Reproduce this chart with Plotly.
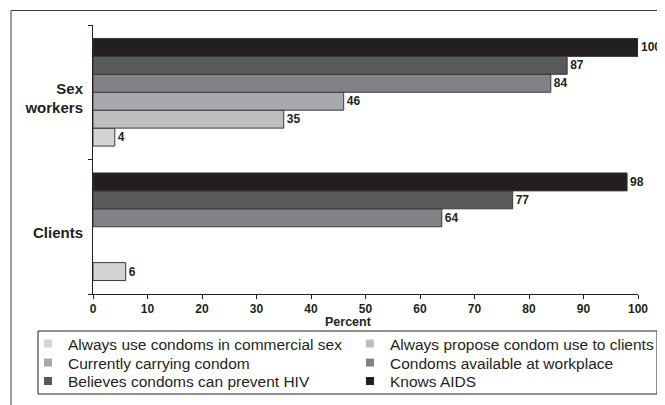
import plotly.graph_objects as go

groups = ["Clients", "Sex workers"]
group_labels = ["Clients", "Sex<br>workers"]

series_names = [
    "Always use condoms in commercial sex",
    "Always propose condom use to clients",
    "Currently carrying condom",
    "Condoms available at workplace",
    "Believes condoms can prevent HIV",
    "Knows AIDS",
]
# values per series: [Clients, Sex workers]
always_use = [6, 4]
always_propose = [None, 35]
currently_carrying = [None, 46]
condoms_available = [64, 84]
believes_prevent = [77, 87]
knows_aids = [98, 100]
series_values = [always_use, always_propose, currently_carrying,
                 condoms_available, believes_prevent, knows_aids]

colors = ["#d1d3d4", "#bcbec0", "#a7a9ac", "#808285", "#58595b", "#231f20"]
x_ticks = [0, 10, 20, 30, 40, 50, 60, 70, 80, 90, 100]

# page body has an 8px margin: design in window pixels, shift by OFF
OFF = 8
W, H = 665 - OFF, 405 - OFF
PL, PR, PT, PB = 93, 638, 25, 294          # plot area in window pixels
ML, MR, MT, MB = PL - OFF, W - (PR - OFF), PT - OFF, H - (PB - OFF)
PW = W - ML - MR
PH = H - MT - MB

def px_x(px):
    return (px - OFF - ML) / PW

def px_y(py):
    return (H - MB - (py - OFF)) / PH

BOLD = "Liberation Sans, Arial, sans-serif"
TXT = "#231f20"

# legend entry placement (window px): two columns, three rows
col_x = [28, 350]
row_top = [327, 346, 364.5]
legend_ids = ["legend", "legend2", "legend3", "legend4", "legend5", "legend6"]

fig = go.Figure()
for name, vals, col in zip(series_names, series_values, colors):
    fig.add_trace(go.Bar(
        y=groups, x=vals, orientation="h", name=name,
        marker=dict(color=col, line=dict(color="#3a3a3a", width=1)),
        text=[("" if v is None else str(v)) for v in vals],
        textposition="outside", cliponaxis=False,
        textfont=dict(family=BOLD, size=12, color=TXT, weight="bold"),
        showlegend=False, hoverinfo="skip",
    ))
# legend entries with small square swatches
for name, col, lg in zip(series_names, colors, legend_ids):
    fig.add_trace(go.Scatter(
        x=[None], y=[None], mode="markers", name=name,
        marker=dict(symbol="square", size=8, color=col),
        showlegend=True, legend=lg,
    ))

legend_font = dict(family="Liberation Sans, Arial, sans-serif", size=15.5, color=TXT)
legend_layouts = {}
for i, lg in enumerate(legend_ids):
    legend_layouts[lg] = dict(
        orientation="v", x=px_x(col_x[i % 2]), xanchor="left",
        y=px_y(row_top[i // 2]), yanchor="top",
        borderwidth=0, bgcolor="rgba(0,0,0,0)", font=legend_font,
        itemwidth=30,
    )

fig.update_layout(
    width=W, height=H,
    margin=dict(l=ML, r=MR, t=MT, b=MB, autoexpand=False),
    paper_bgcolor="white", plot_bgcolor="white",
    barmode="group", bargap=0.2, bargroupgap=0,
    font=dict(family=BOLD, color=TXT),
    xaxis=dict(
        range=[0, 100], tickvals=x_ticks, ticktext=[str(t) for t in x_ticks],
        showgrid=False, zeroline=False, showline=True, linecolor="#231f20", linewidth=1,
        ticks="outside", ticklen=4, tickcolor="#231f20",
        tickfont=dict(family=BOLD, size=12, color=TXT, weight="bold"),
        fixedrange=True,
    ),
    yaxis=dict(
        type="category", categoryorder="array", categoryarray=groups,
        tickvals=groups, ticktext=group_labels,
        showgrid=False, zeroline=False, showline=True, linecolor="#231f20", linewidth=1,
        ticks="outside", ticklen=4, tickcolor="#231f20", tickson="boundaries",
        ticklabelstandoff=6, ticklabelshift=6,
        tickfont=dict(family=BOLD, size=15, color=TXT, weight="bold"),
        fixedrange=True,
    ),
    annotations=[dict(
        text="Percent", x=px_x(348), y=px_y(321.5), xref="paper", yref="paper",
        showarrow=False, xanchor="center", yanchor="middle",
        font=dict(family=BOLD, size=12.5, color=TXT, weight="bold"),
    )],
    shapes=[
        dict(type="rect", xref="paper", yref="paper",
             x0=px_x(11), x1=px_x(680), y0=px_y(420), y1=px_y(10.5),
             line=dict(color="#3a3a3a", width=1), fillcolor="rgba(0,0,0,0)", layer="below"),
        dict(type="rect", xref="paper", yref="paper",
             x0=px_x(38), x1=px_x(657), y0=px_y(394), y1=px_y(331),
             line=dict(color="#231f20", width=1), fillcolor="rgba(0,0,0,0)", layer="below"),
    ],
    **legend_layouts,
)

fig.write_html("out.html")
